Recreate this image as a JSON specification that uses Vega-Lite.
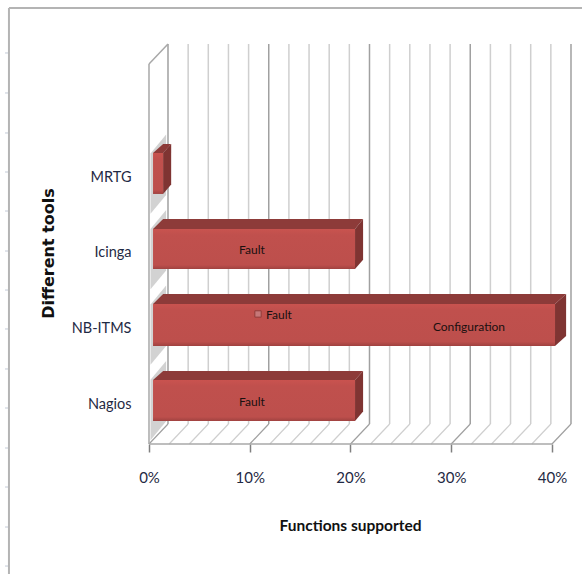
{"$schema":"https://vega.github.io/schema/vega-lite/v6.json","width":582,"height":574,"padding":0,"autosize":{"type":"none"},"background":"white","config":{"view":{"stroke":null},"font":"Lato"},
"layer":[
{"data":{"values":[{"t":5.181},{"t":4.651},{"t":4.121},{"t":3.604},{"t":3.087},{"t":2.557},{"t":2.04},{"t":1.524},{"t":0.994},{"t":0.477},{"t":-0.053},{"t":-0.57},{"t":-1.1},{"t":-1.617}]},
"mark":{"type":"rule","color":"#c3cad6","strokeWidth":1},
"encoding":{"y":{"field":"t","type":"quantitative","scale":{"domain":[-1.7225,5.883],"nice":false,"zero":false},
"axis":{"orient":"left","offset":-149,"values":[0.517,1.524,2.544,3.525],"labelExpr":"datum.value<1?'Nagios':datum.value<2?'NB-ITMS':datum.value<3?'Icinga':'MRTG'","domain":false,"ticks":false,"grid":false,"labelPadding":18,"labelFontSize":14.5,"labelColor":"#1f2a44","labelFont":"Lato","title":"Different tools","titleFontSize":16,"titleFont":"DejaVu Sans","titleFontWeight":"bold","titleColor":"#111","titleAngle":-90,"titleX":-101,"titleY":253,"titleAlign":"center","titleBaseline":"middle"}},
"x":{"datum":-14.29,"type":"quantitative","scale":{"domain":[-14.789,42.978],"nice":false,"zero":false},
"axis":{"orient":"bottom","offset":-130,"values":[0,10,20,30,40],"labelExpr":"datum.value+'%'","domain":false,"tickSize":8,"tickColor":"#808080","tickWidth":1.5,"grid":false,"labelPadding":18,"labelFontSize":15,"labelColor":"#1f2a44","labelFont":"Lato","title":"Functions supported","titleFontSize":15.5,"titleFont":"Lato","titleFontWeight":"bold","titleColor":"#111","titleX":350,"titleY":81,"titleAlign":"center","titleBaseline":"middle"}},
"x2":{"datum":-13.9}}},
{"data":{"values":[{"x":-13.9,"x2":-13.9,"y":-1.7225,"y2":5.777},{"x":-13.9,"x2":42.978,"y":5.777,"y2":5.777}]},
"mark":{"type":"rule","color":"#b4b4b4","strokeWidth":2},
"encoding":{"x":{"field":"x","type":"quantitative"},"x2":{"field":"x2"},"y":{"field":"y","type":"quantitative"},"y2":{"field":"y2"}}},
{"data":{"values":[{"p":0,"b":1.886,"c":"m"},{"p":2,"b":3.886,"c":"n"},{"p":4,"b":5.886,"c":"n"},{"p":6,"b":7.886,"c":"n"},{"p":8,"b":9.886,"c":"n"},{"p":10,"b":11.886,"c":"m"},{"p":12,"b":13.886,"c":"n"},{"p":14,"b":15.886,"c":"n"},{"p":16,"b":17.886,"c":"n"},{"p":18,"b":19.886,"c":"n"},{"p":20,"b":21.886,"c":"m"},{"p":22,"b":23.886,"c":"n"},{"p":24,"b":25.886,"c":"n"},{"p":26,"b":27.886,"c":"n"},{"p":28,"b":29.886,"c":"n"},{"p":30,"b":31.886,"c":"m"},{"p":32,"b":33.886,"c":"n"},{"p":34,"b":35.886,"c":"n"},{"p":36,"b":37.886,"c":"n"},{"p":38,"b":39.886,"c":"n"},{"p":40,"b":41.886,"c":"m"}]},
"layer":[
{"mark":{"type":"rule","strokeWidth":1.5},"encoding":{"x":{"field":"b","type":"quantitative"},"y":{"datum":0.265,"type":"quantitative"},"y2":{"datum":5.3},"color":{"field":"c","type":"nominal","scale":{"domain":["m","n"],"range":["#a0a0a0","#cfcfcf"]},"legend":null}}},
{"mark":{"type":"rule","strokeWidth":1.2},"encoding":{"x":{"field":"p","type":"quantitative"},"x2":{"field":"b"},"y":{"datum":0,"type":"quantitative"},"y2":{"datum":0.265},"color":{"field":"c","type":"nominal","legend":null}}}
]},
{"data":{"values":[{"x":0,"x2":0,"y":0,"y2":5.035},{"x":0,"x2":1.886,"y":5.035,"y2":5.3},{"x":0,"x2":40,"y":0,"y2":0}]},
"mark":{"type":"rule","color":"#a8a8a8","strokeWidth":1.5},
"encoding":{"x":{"field":"x","type":"quantitative"},"x2":{"field":"x2"},"y":{"field":"y","type":"quantitative"},"y2":{"field":"y2"}}},
{"data":{"values":[
{"id":"a","x":0.15,"lo":0.05,"hi":0.85},{"id":"a","x":1.7,"lo":0.3,"hi":1.1},
{"id":"b","x":0.15,"lo":1.05,"hi":1.85},{"id":"b","x":1.7,"lo":1.3,"hi":2.1},
{"id":"c","x":0.15,"lo":2.05,"hi":2.85},{"id":"c","x":1.7,"lo":2.3,"hi":3.1},
{"id":"d","x":0.15,"lo":3.05,"hi":3.85},{"id":"d","x":1.7,"lo":3.3,"hi":4.1}]},
"mark":{"type":"area","color":"#9c9c9c","opacity":0.45},
"encoding":{"x":{"field":"x","type":"quantitative"},"y":{"field":"lo","type":"quantitative"},"y2":{"field":"hi"},"detail":{"field":"id"}}},
{"data":{"values":[
{"tool":"Nagios","y":0.848,"x":0.4,"x2":20.45},{"tool":"Nagios","y":0.967,"x":1.4,"x2":21.25},
{"tool":"NB-ITMS","y":1.855,"x":0.4,"x2":40.3},{"tool":"NB-ITMS","y":1.987,"x":1.4,"x2":41.4},
{"tool":"Icinga","y":2.849,"x":0.4,"x2":20.45},{"tool":"Icinga","y":2.981,"x":1.4,"x2":21.25},
{"tool":"MRTG","y":3.856,"x":0.4,"x2":1.4},{"tool":"MRTG","y":3.974,"x":1.4,"x2":2.2}]},
"mark":{"type":"area","orient":"horizontal","color":"#8d3b39"},
"encoding":{"y":{"field":"y","type":"quantitative"},"x":{"field":"x","type":"quantitative"},"x2":{"field":"x2"},"detail":{"field":"tool"}}},
{"data":{"values":[
{"tool":"Nagios","x":20.45,"lo":0.305,"hi":0.848},{"tool":"Nagios","x":21.25,"lo":0.43,"hi":0.967},
{"tool":"NB-ITMS","x":40.3,"lo":1.3,"hi":1.855},{"tool":"NB-ITMS","x":41.4,"lo":1.43,"hi":1.987},
{"tool":"Icinga","x":20.45,"lo":2.319,"hi":2.849},{"tool":"Icinga","x":21.25,"lo":2.44,"hi":2.981},
{"tool":"MRTG","x":1.4,"lo":3.313,"hi":3.856},{"tool":"MRTG","x":2.2,"lo":3.44,"hi":3.974}]},
"mark":{"type":"area","color":"#7f3432"},
"encoding":{"x":{"field":"x","type":"quantitative"},"y":{"field":"lo","type":"quantitative"},"y2":{"field":"hi"},"detail":{"field":"tool"}}},
{"data":{"values":[
{"tool":"Nagios","x":0.4,"x2":20.45,"lo":0.305,"hi":0.848},
{"tool":"NB-ITMS","x":0.4,"x2":40.3,"lo":1.3,"hi":1.855},
{"tool":"Icinga","x":0.4,"x2":20.45,"lo":2.319,"hi":2.849},
{"tool":"MRTG","x":0.4,"x2":1.4,"lo":3.313,"hi":3.856}]},
"mark":{"type":"rect","color":{"gradient":"linear","x1":0,"y1":0,"x2":0,"y2":1,"stops":[{"offset":0,"color":"#c9534f"},{"offset":0.15,"color":"#c0504d"},{"offset":0.9,"color":"#bd4f4c"},{"offset":1,"color":"#a04240"}]}},
"encoding":{"x":{"field":"x","type":"quantitative"},"x2":{"field":"x2"},"y":{"field":"lo","type":"quantitative"},"y2":{"field":"hi"}}},
{"data":{"values":[{"x":10.82,"y":1.723}]},
"mark":{"type":"point","shape":"square","filled":true,"size":40,"color":"#c98a8c","stroke":"#7e3432","strokeWidth":1},
"encoding":{"x":{"field":"x","type":"quantitative"},"y":{"field":"y","type":"quantitative"}}},
{"data":{"values":[
{"label":"Fault","x":10.22,"y":2.571},{"label":"Fault","x":12.9,"y":1.709},{"label":"Configuration","x":31.76,"y":1.55},{"label":"Fault","x":10.22,"y":0.556}]},
"mark":{"type":"text","font":"Lato","fontSize":12,"color":"#1a1010","align":"center","baseline":"middle"},
"encoding":{"x":{"field":"x","type":"quantitative"},"y":{"field":"y","type":"quantitative"},"text":{"field":"label"}}}
]}
